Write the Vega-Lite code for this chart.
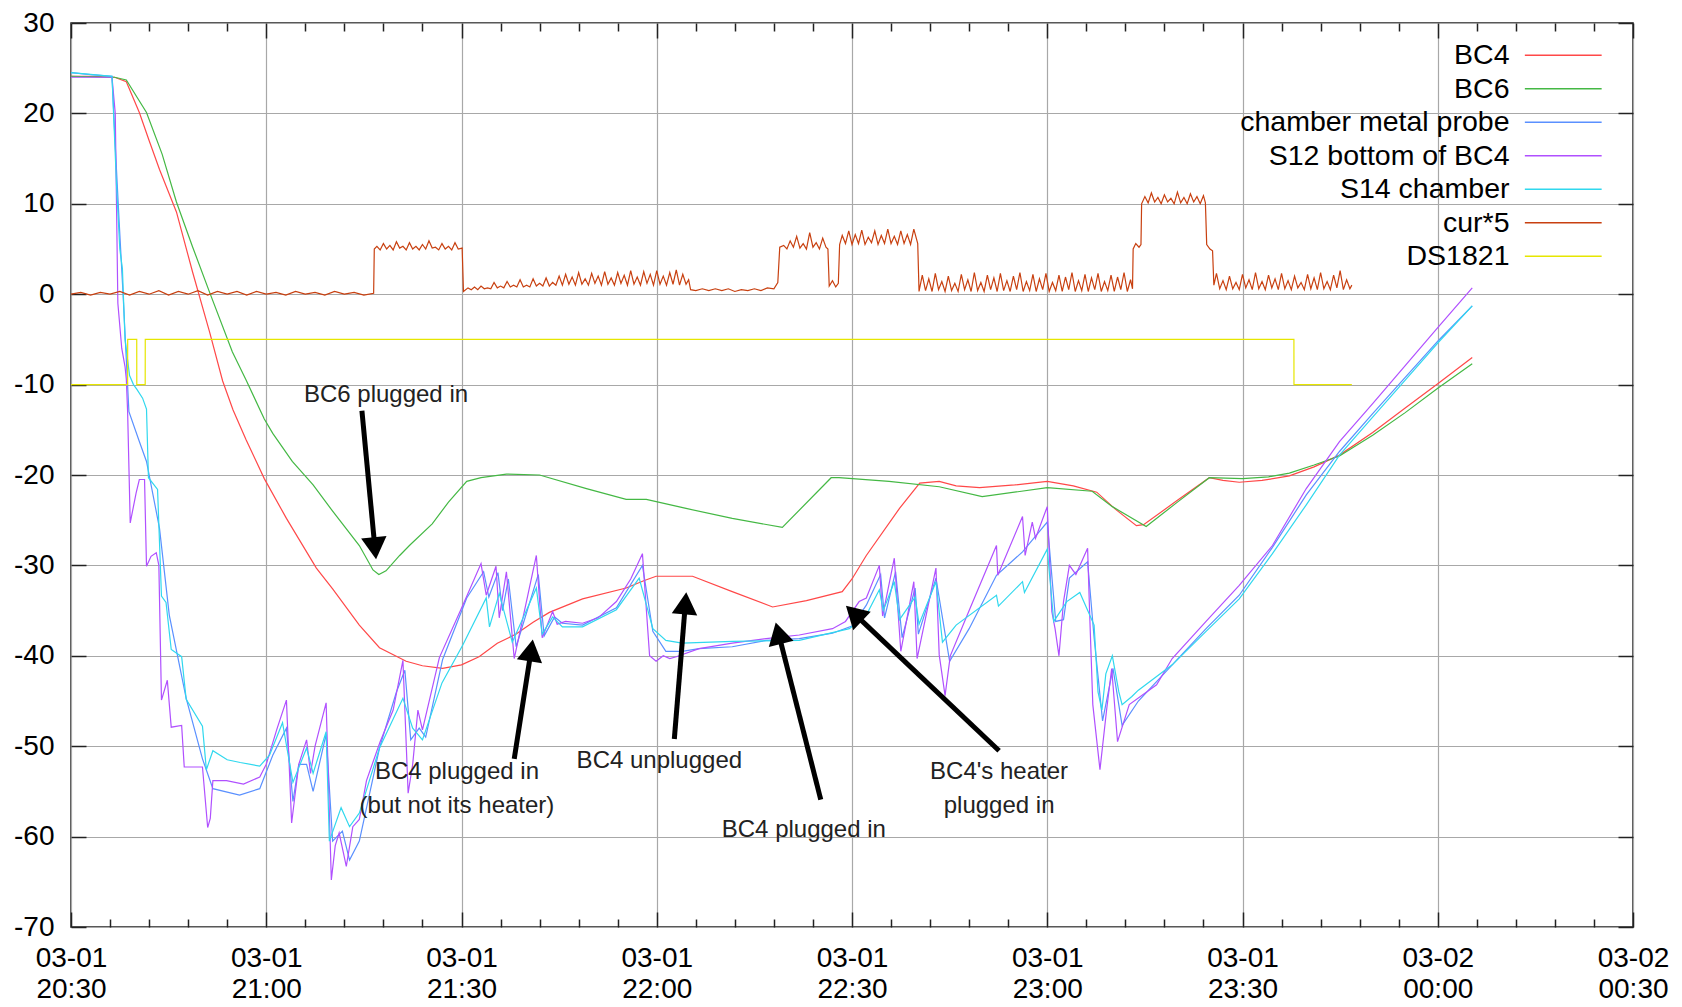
{
"$schema":"https://vega.github.io/schema/vega-lite/v6.json",
"autosize":{"type":"none"},
"width":1562,"height":904,
"padding":{"left":71,"top":23,"right":49,"bottom":80},
"background":"white",
"config":{
 "view":{"stroke":"#222","strokeWidth":1.5},
 "axis":{"labelFont":"Liberation Sans","labelFontSize":28,"labelColor":"#000","tickColor":"#222","tickWidth":1.5,"gridColor":"#a8a8a8","gridWidth":1.2,"gridOpacity":1,"title":null,"labelFlush":false,"labelOverlap":false},
 "legend":{"orient":"none","legendX":1478,"legendY":18,"padding":0,"title":null,"labelFont":"Liberation Sans","labelFontSize":28.5,"labelColor":"#000","labelAlign":"right","labelOffset":-68,"labelLimit":0,"symbolType":"M-4.8,0H4.8","symbolSize":256,"symbolStrokeWidth":1.5,"rowPadding":4.5}
},
"datasets":{
"series":[
{"s":"BC4","t":0,"v":24.1},{"s":"BC4","t":3,"v":24.1},{"s":"BC4","t":6.7,"v":24.0},{"s":"BC4","t":8.5,"v":23.5},{"s":"BC4","t":10.5,"v":20.1},{"s":"BC4","t":12,"v":17},{"s":"BC4","t":13.6,"v":13.8},{"s":"BC4","t":16.2,"v":9.1},{"s":"BC4","t":18.7,"v":2.4},{"s":"BC4","t":21.3,"v":-4.2},{"s":"BC4","t":23.3,"v":-9.6},{"s":"BC4","t":24.9,"v":-12.8},{"s":"BC4","t":26.9,"v":-16.1},{"s":"BC4","t":29.7,"v":-20.4},{"s":"BC4","t":33.1,"v":-24.8},{"s":"BC4","t":37.7,"v":-30.3},{"s":"BC4","t":40.2,"v":-32.6},{"s":"BC4","t":44.3,"v":-36.6},{"s":"BC4","t":47.4,"v":-39.1},{"s":"BC4","t":51.5,"v":-40.6},{"s":"BC4","t":54,"v":-41.1},{"s":"BC4","t":57.1,"v":-41.4},{"s":"BC4","t":60,"v":-41},{"s":"BC4","t":62.7,"v":-40.1},{"s":"BC4","t":65.5,"v":-38.6},{"s":"BC4","t":68.4,"v":-37.6},{"s":"BC4","t":71,"v":-36.3},{"s":"BC4","t":73.5,"v":-35.2},{"s":"BC4","t":78.6,"v":-33.7},{"s":"BC4","t":85.3,"v":-32.5},{"s":"BC4","t":88,"v":-31.7},{"s":"BC4","t":89.9,"v":-31.2},{"s":"BC4","t":95.5,"v":-31.2},{"s":"BC4","t":101.6,"v":-32.9},{"s":"BC4","t":107.8,"v":-34.6},{"s":"BC4","t":113,"v":-33.9},{"s":"BC4","t":118.5,"v":-32.9},{"s":"BC4","t":120,"v":-31.5},{"s":"BC4","t":122.2,"v":-28.9},{"s":"BC4","t":127.3,"v":-23.7},{"s":"BC4","t":130.4,"v":-20.9},{"s":"BC4","t":133.4,"v":-20.7},{"s":"BC4","t":136,"v":-21.2},{"s":"BC4","t":139.6,"v":-21.4},{"s":"BC4","t":145,"v":-21.1},{"s":"BC4","t":150,"v":-20.7},{"s":"BC4","t":154,"v":-21.2},{"s":"BC4","t":157.6,"v":-21.9},{"s":"BC4","t":160.5,"v":-23.8},{"s":"BC4","t":163.7,"v":-25.6},{"s":"BC4","t":164.8,"v":-25.5},{"s":"BC4","t":170,"v":-22.8},{"s":"BC4","t":174.9,"v":-20.3},{"s":"BC4","t":177,"v":-20.6},{"s":"BC4","t":179.5,"v":-20.8},{"s":"BC4","t":183,"v":-20.6},{"s":"BC4","t":187.2,"v":-20.1},{"s":"BC4","t":191,"v":-19.1},{"s":"BC4","t":194.9,"v":-17.8},{"s":"BC4","t":200,"v":-15.3},{"s":"BC4","t":205,"v":-12.6},{"s":"BC4","t":210,"v":-9.9},{"s":"BC4","t":215.3,"v":-7.0},
{"s":"BC6","t":0,"v":24.1},{"s":"BC6","t":6.7,"v":24.0},{"s":"BC6","t":8.5,"v":23.7},{"s":"BC6","t":11.6,"v":20.1},{"s":"BC6","t":14,"v":15.5},{"s":"BC6","t":16.2,"v":10.2},{"s":"BC6","t":18.7,"v":5.2},{"s":"BC6","t":21.3,"v":0.2},{"s":"BC6","t":24.8,"v":-6.4},{"s":"BC6","t":26.9,"v":-9.5},{"s":"BC6","t":29.7,"v":-13.8},{"s":"BC6","t":31,"v":-15.4},{"s":"BC6","t":34,"v":-18.5},{"s":"BC6","t":37.2,"v":-21.1},{"s":"BC6","t":40.2,"v":-24},{"s":"BC6","t":44.3,"v":-27.8},{"s":"BC6","t":46.4,"v":-30.5},{"s":"BC6","t":47.3,"v":-31.0},{"s":"BC6","t":48.4,"v":-30.6},{"s":"BC6","t":50.5,"v":-28.9},{"s":"BC6","t":52,"v":-27.8},{"s":"BC6","t":55.5,"v":-25.4},{"s":"BC6","t":58,"v":-23},{"s":"BC6","t":60.8,"v":-20.7},{"s":"BC6","t":63,"v":-20.3},{"s":"BC6","t":66.9,"v":-19.9},{"s":"BC6","t":72,"v":-20.0},{"s":"BC6","t":79.2,"v":-21.5},{"s":"BC6","t":85.3,"v":-22.7},{"s":"BC6","t":88.4,"v":-22.7},{"s":"BC6","t":94.5,"v":-23.7},{"s":"BC6","t":101.6,"v":-24.8},{"s":"BC6","t":109.3,"v":-25.8},{"s":"BC6","t":116.8,"v":-20.3},{"s":"BC6","t":118,"v":-20.3},{"s":"BC6","t":125.7,"v":-20.7},{"s":"BC6","t":133.4,"v":-21.3},{"s":"BC6","t":140,"v":-22.4},{"s":"BC6","t":150,"v":-21.4},{"s":"BC6","t":156.9,"v":-21.8},{"s":"BC6","t":160,"v":-23.5},{"s":"BC6","t":165.2,"v":-25.7},{"s":"BC6","t":170,"v":-23},{"s":"BC6","t":174.9,"v":-20.3},{"s":"BC6","t":180,"v":-20.4},{"s":"BC6","t":184,"v":-20.2},{"s":"BC6","t":187.2,"v":-19.8},{"s":"BC6","t":191,"v":-18.9},{"s":"BC6","t":194.9,"v":-17.9},{"s":"BC6","t":200,"v":-15.6},{"s":"BC6","t":205,"v":-13.1},{"s":"BC6","t":210,"v":-10.4},{"s":"BC6","t":215.3,"v":-7.7},
{"s":"chamber metal probe","t":0,"v":24.5},{"s":"chamber metal probe","t":3,"v":24.3},{"s":"chamber metal probe","t":6.3,"v":24.1},{"s":"chamber metal probe","t":6.9,"v":15},{"s":"chamber metal probe","t":7.4,"v":8},{"s":"chamber metal probe","t":8,"v":0},{"s":"chamber metal probe","t":8.9,"v":-13},{"s":"chamber metal probe","t":10.5,"v":-16.3},{"s":"chamber metal probe","t":11.6,"v":-18.5},{"s":"chamber metal probe","t":13.6,"v":-25.9},{"s":"chamber metal probe","t":15.1,"v":-35.5},{"s":"chamber metal probe","t":17.7,"v":-44.7},{"s":"chamber metal probe","t":20.2,"v":-51.4},{"s":"chamber metal probe","t":21.8,"v":-54.7},{"s":"chamber metal probe","t":25.9,"v":-55.4},{"s":"chamber metal probe","t":29,"v":-54.7},{"s":"chamber metal probe","t":31,"v":-51},{"s":"chamber metal probe","t":33.1,"v":-48},{"s":"chamber metal probe","t":34.1,"v":-56.1},{"s":"chamber metal probe","t":35,"v":-52},{"s":"chamber metal probe","t":36.2,"v":-52},{"s":"chamber metal probe","t":37.2,"v":-55},{"s":"chamber metal probe","t":39.2,"v":-48.7},{"s":"chamber metal probe","t":40.2,"v":-60.5},{"s":"chamber metal probe","t":41.7,"v":-59.4},{"s":"chamber metal probe","t":42.8,"v":-62.6},{"s":"chamber metal probe","t":44.3,"v":-60.5},{"s":"chamber metal probe","t":47.4,"v":-50.2},{"s":"chamber metal probe","t":50,"v":-44},{"s":"chamber metal probe","t":51.3,"v":-41.6},{"s":"chamber metal probe","t":52.2,"v":-49.3},{"s":"chamber metal probe","t":53.5,"v":-48},{"s":"chamber metal probe","t":54.5,"v":-49},{"s":"chamber metal probe","t":57.1,"v":-40.4},{"s":"chamber metal probe","t":60.8,"v":-33.6},{"s":"chamber metal probe","t":63.4,"v":-30.7},{"s":"chamber metal probe","t":64.2,"v":-33.5},{"s":"chamber metal probe","t":65.6,"v":-30.8},{"s":"chamber metal probe","t":66.3,"v":-35},{"s":"chamber metal probe","t":67.2,"v":-31.5},{"s":"chamber metal probe","t":68.4,"v":-39},{"s":"chamber metal probe","t":71.8,"v":-31},{"s":"chamber metal probe","t":72.7,"v":-37.8},{"s":"chamber metal probe","t":74.3,"v":-35.7},{"s":"chamber metal probe","t":75.5,"v":-36.4},{"s":"chamber metal probe","t":78.6,"v":-36.6},{"s":"chamber metal probe","t":83.8,"v":-34.7},{"s":"chamber metal probe","t":87.8,"v":-30},{"s":"chamber metal probe","t":89.4,"v":-37.3},{"s":"chamber metal probe","t":91.4,"v":-39.5},{"s":"chamber metal probe","t":93.9,"v":-39.5},{"s":"chamber metal probe","t":96.5,"v":-39.2},{"s":"chamber metal probe","t":101.6,"v":-39},{"s":"chamber metal probe","t":106.8,"v":-38.3},{"s":"chamber metal probe","t":111.9,"v":-38.1},{"s":"chamber metal probe","t":117,"v":-37.5},{"s":"chamber metal probe","t":120,"v":-36.7},{"s":"chamber metal probe","t":122.2,"v":-34.4},{"s":"chamber metal probe","t":124.4,"v":-31},{"s":"chamber metal probe","t":125,"v":-35.8},{"s":"chamber metal probe","t":126.7,"v":-30.7},{"s":"chamber metal probe","t":127.7,"v":-38},{"s":"chamber metal probe","t":129.7,"v":-32.5},{"s":"chamber metal probe","t":130.2,"v":-37.6},{"s":"chamber metal probe","t":132.9,"v":-31.4},{"s":"chamber metal probe","t":135,"v":-40.6},{"s":"chamber metal probe","t":138,"v":-37},{"s":"chamber metal probe","t":142.2,"v":-31.1},{"s":"chamber metal probe","t":146.2,"v":-28.5},{"s":"chamber metal probe","t":150,"v":-25.2},{"s":"chamber metal probe","t":151.3,"v":-36.2},{"s":"chamber metal probe","t":152.5,"v":-36},{"s":"chamber metal probe","t":153.4,"v":-31.4},{"s":"chamber metal probe","t":156.2,"v":-29.6},{"s":"chamber metal probe","t":157.2,"v":-38},{"s":"chamber metal probe","t":158.5,"v":-47.2},{"s":"chamber metal probe","t":160.1,"v":-41.4},{"s":"chamber metal probe","t":161.5,"v":-47.7},{"s":"chamber metal probe","t":164,"v":-45},{"s":"chamber metal probe","t":169.2,"v":-41},{"s":"chamber metal probe","t":174.4,"v":-37},{"s":"chamber metal probe","t":179.5,"v":-33.3},{"s":"chamber metal probe","t":184.6,"v":-28},{"s":"chamber metal probe","t":189.8,"v":-22.2},{"s":"chamber metal probe","t":194.9,"v":-17.4},{"s":"chamber metal probe","t":200,"v":-13.2},{"s":"chamber metal probe","t":205,"v":-9.2},{"s":"chamber metal probe","t":210,"v":-5.2},{"s":"chamber metal probe","t":215.3,"v":-1.3},
{"s":"S12 bottom of BC4","t":0,"v":24.0},{"s":"S12 bottom of BC4","t":6.3,"v":24.0},{"s":"S12 bottom of BC4","t":6.8,"v":20},{"s":"S12 bottom of BC4","t":7.2,"v":-1},{"s":"S12 bottom of BC4","t":7.8,"v":-6},{"s":"S12 bottom of BC4","t":8.3,"v":-8},{"s":"S12 bottom of BC4","t":8.5,"v":-9.4},{"s":"S12 bottom of BC4","t":8.7,"v":-13},{"s":"S12 bottom of BC4","t":9.1,"v":-25.3},{"s":"S12 bottom of BC4","t":10,"v":-22},{"s":"S12 bottom of BC4","t":10.5,"v":-20.5},{"s":"S12 bottom of BC4","t":11.3,"v":-20.5},{"s":"S12 bottom of BC4","t":11.6,"v":-30.1},{"s":"S12 bottom of BC4","t":12.3,"v":-29},{"s":"S12 bottom of BC4","t":13.1,"v":-28.6},{"s":"S12 bottom of BC4","t":13.5,"v":-30},{"s":"S12 bottom of BC4","t":13.9,"v":-44.9},{"s":"S12 bottom of BC4","t":14.8,"v":-42.7},{"s":"S12 bottom of BC4","t":15.4,"v":-47.9},{"s":"S12 bottom of BC4","t":17,"v":-47.7},{"s":"S12 bottom of BC4","t":17.4,"v":-52.3},{"s":"S12 bottom of BC4","t":20.2,"v":-52.3},{"s":"S12 bottom of BC4","t":21,"v":-59},{"s":"S12 bottom of BC4","t":21.4,"v":-58},{"s":"S12 bottom of BC4","t":21.8,"v":-53.8},{"s":"S12 bottom of BC4","t":23.9,"v":-53.8},{"s":"S12 bottom of BC4","t":26.5,"v":-54.2},{"s":"S12 bottom of BC4","t":29,"v":-53.4},{"s":"S12 bottom of BC4","t":30,"v":-52},{"s":"S12 bottom of BC4","t":31.6,"v":-48.2},{"s":"S12 bottom of BC4","t":33.1,"v":-44.9},{"s":"S12 bottom of BC4","t":33.9,"v":-58.5},{"s":"S12 bottom of BC4","t":35,"v":-52},{"s":"S12 bottom of BC4","t":36.2,"v":-49.3},{"s":"S12 bottom of BC4","t":36.8,"v":-53},{"s":"S12 bottom of BC4","t":37.5,"v":-50},{"s":"S12 bottom of BC4","t":39.2,"v":-45.2},{"s":"S12 bottom of BC4","t":40,"v":-64.8},{"s":"S12 bottom of BC4","t":40.6,"v":-61},{"s":"S12 bottom of BC4","t":41.2,"v":-59.6},{"s":"S12 bottom of BC4","t":42.3,"v":-63.3},{"s":"S12 bottom of BC4","t":43.3,"v":-58.9},{"s":"S12 bottom of BC4","t":44.3,"v":-58.1},{"s":"S12 bottom of BC4","t":45.4,"v":-53.8},{"s":"S12 bottom of BC4","t":47.5,"v":-49.5},{"s":"S12 bottom of BC4","t":49.5,"v":-46},{"s":"S12 bottom of BC4","t":51,"v":-40.5},{"s":"S12 bottom of BC4","t":51.8,"v":-55.2},{"s":"S12 bottom of BC4","t":52.5,"v":-52},{"s":"S12 bottom of BC4","t":53.3,"v":-46},{"s":"S12 bottom of BC4","t":54,"v":-48.2},{"s":"S12 bottom of BC4","t":56.6,"v":-40.2},{"s":"S12 bottom of BC4","t":60.2,"v":-34.4},{"s":"S12 bottom of BC4","t":63,"v":-29.8},{"s":"S12 bottom of BC4","t":63.8,"v":-33.3},{"s":"S12 bottom of BC4","t":65.3,"v":-30.1},{"s":"S12 bottom of BC4","t":65.8,"v":-35.8},{"s":"S12 bottom of BC4","t":66.9,"v":-30.7},{"s":"S12 bottom of BC4","t":68.1,"v":-40.3},{"s":"S12 bottom of BC4","t":71.5,"v":-28.9},{"s":"S12 bottom of BC4","t":72.4,"v":-38},{"s":"S12 bottom of BC4","t":74,"v":-35.1},{"s":"S12 bottom of BC4","t":74.7,"v":-36.5},{"s":"S12 bottom of BC4","t":76,"v":-36.2},{"s":"S12 bottom of BC4","t":78.6,"v":-36.4},{"s":"S12 bottom of BC4","t":81,"v":-35.8},{"s":"S12 bottom of BC4","t":83.8,"v":-34},{"s":"S12 bottom of BC4","t":86,"v":-31.5},{"s":"S12 bottom of BC4","t":87.8,"v":-28.7},{"s":"S12 bottom of BC4","t":88.9,"v":-40},{"s":"S12 bottom of BC4","t":89.9,"v":-40.6},{"s":"S12 bottom of BC4","t":91,"v":-40},{"s":"S12 bottom of BC4","t":92,"v":-40.3},{"s":"S12 bottom of BC4","t":93,"v":-40.1},{"s":"S12 bottom of BC4","t":96.5,"v":-39.2},{"s":"S12 bottom of BC4","t":101.6,"v":-38.6},{"s":"S12 bottom of BC4","t":106.8,"v":-38.1},{"s":"S12 bottom of BC4","t":111.9,"v":-37.7},{"s":"S12 bottom of BC4","t":117,"v":-37},{"s":"S12 bottom of BC4","t":119,"v":-36.2},{"s":"S12 bottom of BC4","t":121.1,"v":-34},{"s":"S12 bottom of BC4","t":122.2,"v":-33.6},{"s":"S12 bottom of BC4","t":124.2,"v":-30},{"s":"S12 bottom of BC4","t":124.7,"v":-35.6},{"s":"S12 bottom of BC4","t":126.5,"v":-29.2},{"s":"S12 bottom of BC4","t":127.5,"v":-39.5},{"s":"S12 bottom of BC4","t":129.5,"v":-31.8},{"s":"S12 bottom of BC4","t":130,"v":-40.3},{"s":"S12 bottom of BC4","t":132.9,"v":-30.3},{"s":"S12 bottom of BC4","t":133.4,"v":-39.9},{"s":"S12 bottom of BC4","t":134.3,"v":-44.4},{"s":"S12 bottom of BC4","t":135.1,"v":-40},{"s":"S12 bottom of BC4","t":138,"v":-35},{"s":"S12 bottom of BC4","t":142.2,"v":-27.8},{"s":"S12 bottom of BC4","t":142.4,"v":-31.1},{"s":"S12 bottom of BC4","t":146.2,"v":-24.6},{"s":"S12 bottom of BC4","t":146.6,"v":-28.9},{"s":"S12 bottom of BC4","t":147.7,"v":-25.2},{"s":"S12 bottom of BC4","t":148.2,"v":-27},{"s":"S12 bottom of BC4","t":150,"v":-23.5},{"s":"S12 bottom of BC4","t":150.7,"v":-35.1},{"s":"S12 bottom of BC4","t":151.2,"v":-37},{"s":"S12 bottom of BC4","t":151.8,"v":-40},{"s":"S12 bottom of BC4","t":152.5,"v":-34},{"s":"S12 bottom of BC4","t":153.4,"v":-30},{"s":"S12 bottom of BC4","t":154.4,"v":-31},{"s":"S12 bottom of BC4","t":156.2,"v":-28.1},{"s":"S12 bottom of BC4","t":156.5,"v":-35},{"s":"S12 bottom of BC4","t":157,"v":-45.4},{"s":"S12 bottom of BC4","t":158.1,"v":-52.6},{"s":"S12 bottom of BC4","t":159.1,"v":-46.1},{"s":"S12 bottom of BC4","t":159.9,"v":-41.4},{"s":"S12 bottom of BC4","t":160.8,"v":-49.5},{"s":"S12 bottom of BC4","t":162.6,"v":-45.4},{"s":"S12 bottom of BC4","t":166.8,"v":-43.2},{"s":"S12 bottom of BC4","t":169.2,"v":-40.3},{"s":"S12 bottom of BC4","t":174.4,"v":-36.2},{"s":"S12 bottom of BC4","t":179.5,"v":-32.2},{"s":"S12 bottom of BC4","t":184.6,"v":-27.8},{"s":"S12 bottom of BC4","t":189.8,"v":-21.5},{"s":"S12 bottom of BC4","t":194.9,"v":-16.3},{"s":"S12 bottom of BC4","t":200,"v":-12.1},{"s":"S12 bottom of BC4","t":205,"v":-7.9},{"s":"S12 bottom of BC4","t":210,"v":-3.7},{"s":"S12 bottom of BC4","t":215.3,"v":0.7},
{"s":"S14 chamber","t":0,"v":24.5},{"s":"S14 chamber","t":6.3,"v":24.1},{"s":"S14 chamber","t":7,"v":12},{"s":"S14 chamber","t":7.5,"v":5},{"s":"S14 chamber","t":7.9,"v":2.8},{"s":"S14 chamber","t":8.3,"v":-5},{"s":"S14 chamber","t":9,"v":-9},{"s":"S14 chamber","t":9.6,"v":-10},{"s":"S14 chamber","t":10.1,"v":-10.5},{"s":"S14 chamber","t":11,"v":-11.5},{"s":"S14 chamber","t":11.6,"v":-12.7},{"s":"S14 chamber","t":11.9,"v":-20.3},{"s":"S14 chamber","t":13.3,"v":-21.6},{"s":"S14 chamber","t":13.9,"v":-33.4},{"s":"S14 chamber","t":14.6,"v":-34.1},{"s":"S14 chamber","t":15.4,"v":-39.3},{"s":"S14 chamber","t":17,"v":-40.1},{"s":"S14 chamber","t":17.7,"v":-44.8},{"s":"S14 chamber","t":20.2,"v":-47.8},{"s":"S14 chamber","t":20.8,"v":-52.6},{"s":"S14 chamber","t":21.8,"v":-50.5},{"s":"S14 chamber","t":24,"v":-51.5},{"s":"S14 chamber","t":26,"v":-51.8},{"s":"S14 chamber","t":29,"v":-52.2},{"s":"S14 chamber","t":30.5,"v":-51},{"s":"S14 chamber","t":32.5,"v":-47.4},{"s":"S14 chamber","t":34.1,"v":-54},{"s":"S14 chamber","t":36.2,"v":-50.2},{"s":"S14 chamber","t":37.2,"v":-53},{"s":"S14 chamber","t":39.2,"v":-48.4},{"s":"S14 chamber","t":39.7,"v":-60.5},{"s":"S14 chamber","t":41.5,"v":-56.8},{"s":"S14 chamber","t":42.8,"v":-58.9},{"s":"S14 chamber","t":44.3,"v":-57.4},{"s":"S14 chamber","t":47.4,"v":-50.2},{"s":"S14 chamber","t":51,"v":-44.7},{"s":"S14 chamber","t":52.5,"v":-48},{"s":"S14 chamber","t":54,"v":-49.3},{"s":"S14 chamber","t":57,"v":-43},{"s":"S14 chamber","t":60.2,"v":-38.8},{"s":"S14 chamber","t":63.8,"v":-33.6},{"s":"S14 chamber","t":64.3,"v":-36.8},{"s":"S14 chamber","t":65.8,"v":-33.1},{"s":"S14 chamber","t":67.8,"v":-38.5},{"s":"S14 chamber","t":71.5,"v":-32.5},{"s":"S14 chamber","t":72.4,"v":-37.6},{"s":"S14 chamber","t":74,"v":-35.7},{"s":"S14 chamber","t":75.5,"v":-36.8},{"s":"S14 chamber","t":78.6,"v":-36.8},{"s":"S14 chamber","t":83.8,"v":-34.9},{"s":"S14 chamber","t":87.3,"v":-31.4},{"s":"S14 chamber","t":89.4,"v":-37},{"s":"S14 chamber","t":91.4,"v":-38.3},{"s":"S14 chamber","t":93.9,"v":-38.6},{"s":"S14 chamber","t":101.6,"v":-38.4},{"s":"S14 chamber","t":111.9,"v":-38.3},{"s":"S14 chamber","t":119.6,"v":-37},{"s":"S14 chamber","t":122.2,"v":-35.5},{"s":"S14 chamber","t":124.2,"v":-32.7},{"s":"S14 chamber","t":124.8,"v":-35},{"s":"S14 chamber","t":126.5,"v":-31.8},{"s":"S14 chamber","t":127.3,"v":-36},{"s":"S14 chamber","t":129.7,"v":-33.5},{"s":"S14 chamber","t":130.3,"v":-36.5},{"s":"S14 chamber","t":132.9,"v":-31.8},{"s":"S14 chamber","t":133.9,"v":-38.5},{"s":"S14 chamber","t":136,"v":-36.6},{"s":"S14 chamber","t":142.2,"v":-33.3},{"s":"S14 chamber","t":142.5,"v":-34.5},{"s":"S14 chamber","t":146.2,"v":-31.8},{"s":"S14 chamber","t":146.5,"v":-33},{"s":"S14 chamber","t":150,"v":-28.2},{"s":"S14 chamber","t":151,"v":-36.2},{"s":"S14 chamber","t":153,"v":-34},{"s":"S14 chamber","t":155,"v":-33},{"s":"S14 chamber","t":157.2,"v":-36.6},{"s":"S14 chamber","t":157.8,"v":-44},{"s":"S14 chamber","t":158.4,"v":-46},{"s":"S14 chamber","t":159,"v":-42},{"s":"S14 chamber","t":160,"v":-40},{"s":"S14 chamber","t":161,"v":-44},{"s":"S14 chamber","t":161.5,"v":-45.4},{"s":"S14 chamber","t":163,"v":-44.5},{"s":"S14 chamber","t":164,"v":-43.8},{"s":"S14 chamber","t":169.2,"v":-41},{"s":"S14 chamber","t":174.4,"v":-37.3},{"s":"S14 chamber","t":179.5,"v":-33.7},{"s":"S14 chamber","t":184.6,"v":-28.7},{"s":"S14 chamber","t":189.8,"v":-23.3},{"s":"S14 chamber","t":194.9,"v":-17.8},{"s":"S14 chamber","t":200,"v":-13.6},{"s":"S14 chamber","t":205,"v":-9.5},{"s":"S14 chamber","t":210,"v":-5.4},{"s":"S14 chamber","t":215.3,"v":-1.3},
{"s":"cur*5","t":0,"v":0.0},{"s":"cur*5","t":1.5,"v":0.2},{"s":"cur*5","t":3,"v":-0.1},{"s":"cur*5","t":4.5,"v":0.2},{"s":"cur*5","t":6,"v":0},{"s":"cur*5","t":7.5,"v":0.3},{"s":"cur*5","t":9,"v":-0.1},{"s":"cur*5","t":10.5,"v":0.3},{"s":"cur*5","t":12,"v":0},{"s":"cur*5","t":13.5,"v":0.4},{"s":"cur*5","t":15,"v":-0.1},{"s":"cur*5","t":16.5,"v":0.3},{"s":"cur*5","t":18,"v":0},{"s":"cur*5","t":19.5,"v":0.4},{"s":"cur*5","t":21,"v":-0.1},{"s":"cur*5","t":22.5,"v":0.3},{"s":"cur*5","t":24,"v":0},{"s":"cur*5","t":25.5,"v":0.3},{"s":"cur*5","t":27,"v":-0.1},{"s":"cur*5","t":28.5,"v":0.3},{"s":"cur*5","t":30,"v":0},{"s":"cur*5","t":31.5,"v":0.2},{"s":"cur*5","t":33,"v":-0.1},{"s":"cur*5","t":34.5,"v":0.3},{"s":"cur*5","t":36,"v":0},{"s":"cur*5","t":37.5,"v":0.2},{"s":"cur*5","t":39,"v":-0.1},{"s":"cur*5","t":40.5,"v":0.3},{"s":"cur*5","t":42,"v":0},{"s":"cur*5","t":43.5,"v":0.2},{"s":"cur*5","t":45,"v":-0.1},{"s":"cur*5","t":46.5,"v":0.1},
{"s":"cur*5","t":46.6,"v":5.0},{"s":"cur*5","t":47,"v":5.3},{"s":"cur*5","t":47.5,"v":4.9},{"s":"cur*5","t":48,"v":5.6},{"s":"cur*5","t":48.5,"v":5.0},{"s":"cur*5","t":49,"v":5.4},{"s":"cur*5","t":49.5,"v":4.9},{"s":"cur*5","t":50,"v":5.8},{"s":"cur*5","t":50.5,"v":5.1},{"s":"cur*5","t":51,"v":5.3},{"s":"cur*5","t":51.5,"v":4.9},{"s":"cur*5","t":52,"v":5.7},{"s":"cur*5","t":52.5,"v":5.0},{"s":"cur*5","t":53,"v":5.3},{"s":"cur*5","t":53.5,"v":4.9},{"s":"cur*5","t":54,"v":5.5},{"s":"cur*5","t":54.5,"v":5.0},{"s":"cur*5","t":55,"v":5.9},{"s":"cur*5","t":55.5,"v":5.1},{"s":"cur*5","t":56,"v":5.2},{"s":"cur*5","t":56.5,"v":4.9},{"s":"cur*5","t":57,"v":5.6},{"s":"cur*5","t":57.5,"v":5.0},{"s":"cur*5","t":58,"v":5.3},{"s":"cur*5","t":58.5,"v":4.9},{"s":"cur*5","t":59,"v":5.7},{"s":"cur*5","t":59.5,"v":5.0},{"s":"cur*5","t":60.1,"v":5.1},
{"s":"cur*5","t":60.3,"v":0.3},{"s":"cur*5","t":61,"v":0.7},{"s":"cur*5","t":61.5,"v":0.5},{"s":"cur*5","t":62,"v":0.8},{"s":"cur*5","t":62.5,"v":0.5},{"s":"cur*5","t":63,"v":0.9},{"s":"cur*5","t":63.5,"v":0.6},{"s":"cur*5","t":64,"v":0.7},{"s":"cur*5","t":64.5,"v":0.6},{"s":"cur*5","t":65,"v":1.3},{"s":"cur*5","t":65.5,"v":0.7},{"s":"cur*5","t":66,"v":0.9},{"s":"cur*5","t":66.5,"v":0.7},{"s":"cur*5","t":67,"v":1.4},{"s":"cur*5","t":67.5,"v":0.8},{"s":"cur*5","t":68,"v":1.0},{"s":"cur*5","t":68.5,"v":0.8},{"s":"cur*5","t":69,"v":1.6},{"s":"cur*5","t":69.5,"v":0.8},{"s":"cur*5","t":70,"v":1.0},{"s":"cur*5","t":70.5,"v":0.8},{"s":"cur*5","t":71,"v":1.7},{"s":"cur*5","t":71.5,"v":0.9},{"s":"cur*5","t":72,"v":1.2},{"s":"cur*5","t":72.5,"v":0.9},{"s":"cur*5","t":73,"v":1.8},{"s":"cur*5","t":73.5,"v":0.9},{"s":"cur*5","t":74,"v":1.3},{"s":"cur*5","t":74.5,"v":1.0},{"s":"cur*5","t":75,"v":2.0},
{"s":"cur*5","t":75.5,"v":1.0},{"s":"cur*5","t":76,"v":2.2},{"s":"cur*5","t":76.5,"v":1.1},{"s":"cur*5","t":77,"v":1.9},{"s":"cur*5","t":77.5,"v":1.0},{"s":"cur*5","t":78,"v":2.4},{"s":"cur*5","t":78.5,"v":1.1},{"s":"cur*5","t":79,"v":1.7},{"s":"cur*5","t":79.5,"v":1.0},{"s":"cur*5","t":80,"v":2.3},{"s":"cur*5","t":80.5,"v":1.2},{"s":"cur*5","t":81,"v":2.0},{"s":"cur*5","t":81.5,"v":1.0},{"s":"cur*5","t":82,"v":2.5},{"s":"cur*5","t":82.5,"v":1.1},{"s":"cur*5","t":83,"v":1.8},{"s":"cur*5","t":83.5,"v":1.0},{"s":"cur*5","t":84,"v":2.4},{"s":"cur*5","t":84.5,"v":1.2},{"s":"cur*5","t":85,"v":2.1},{"s":"cur*5","t":85.5,"v":1.0},{"s":"cur*5","t":86,"v":2.6},{"s":"cur*5","t":86.5,"v":1.1},{"s":"cur*5","t":87,"v":1.9},{"s":"cur*5","t":87.5,"v":1.0},{"s":"cur*5","t":88,"v":2.5},{"s":"cur*5","t":88.5,"v":1.2},{"s":"cur*5","t":89,"v":2.2},{"s":"cur*5","t":89.5,"v":1.0},{"s":"cur*5","t":90,"v":2.6},{"s":"cur*5","t":90.5,"v":1.1},{"s":"cur*5","t":91,"v":2.0},{"s":"cur*5","t":91.5,"v":1.0},{"s":"cur*5","t":92,"v":2.4},{"s":"cur*5","t":92.5,"v":1.1},{"s":"cur*5","t":93,"v":2.7},{"s":"cur*5","t":93.5,"v":1.0},{"s":"cur*5","t":94,"v":2.2},{"s":"cur*5","t":94.5,"v":1.1},{"s":"cur*5","t":94.9,"v":1.6},
{"s":"cur*5","t":95.2,"v":0.5},{"s":"cur*5","t":96,"v":0.4},{"s":"cur*5","t":97,"v":0.6},{"s":"cur*5","t":98,"v":0.4},{"s":"cur*5","t":99,"v":0.6},{"s":"cur*5","t":100,"v":0.4},{"s":"cur*5","t":101,"v":0.6},{"s":"cur*5","t":102,"v":0.3},{"s":"cur*5","t":103,"v":0.5},{"s":"cur*5","t":104,"v":0.4},{"s":"cur*5","t":105,"v":0.6},{"s":"cur*5","t":106,"v":0.4},{"s":"cur*5","t":107,"v":0.7},{"s":"cur*5","t":108,"v":0.6},{"s":"cur*5","t":108.6,"v":1.3},
{"s":"cur*5","t":108.9,"v":5.2},{"s":"cur*5","t":109.5,"v":5.4},{"s":"cur*5","t":110,"v":5.0},{"s":"cur*5","t":110.5,"v":5.9},{"s":"cur*5","t":111,"v":5.2},{"s":"cur*5","t":111.5,"v":6.4},{"s":"cur*5","t":112,"v":5.1},{"s":"cur*5","t":112.5,"v":5.6},{"s":"cur*5","t":113,"v":5.0},{"s":"cur*5","t":113.5,"v":6.8},{"s":"cur*5","t":114,"v":5.2},{"s":"cur*5","t":114.5,"v":5.7},{"s":"cur*5","t":115,"v":5.0},{"s":"cur*5","t":115.5,"v":6.2},{"s":"cur*5","t":116,"v":5.2},{"s":"cur*5","t":116.3,"v":5.0},
{"s":"cur*5","t":116.5,"v":0.9},{"s":"cur*5","t":117,"v":1.5},{"s":"cur*5","t":117.5,"v":0.8},{"s":"cur*5","t":117.9,"v":1.2},
{"s":"cur*5","t":118.1,"v":5.5},{"s":"cur*5","t":118.5,"v":6.5},{"s":"cur*5","t":119,"v":5.6},{"s":"cur*5","t":119.5,"v":7.0},{"s":"cur*5","t":120,"v":5.5},{"s":"cur*5","t":120.5,"v":6.6},{"s":"cur*5","t":121,"v":5.6},{"s":"cur*5","t":121.5,"v":7.1},{"s":"cur*5","t":122,"v":5.5},{"s":"cur*5","t":122.5,"v":6.3},{"s":"cur*5","t":123,"v":5.7},{"s":"cur*5","t":123.5,"v":7.0},{"s":"cur*5","t":124,"v":5.5},{"s":"cur*5","t":124.5,"v":6.5},{"s":"cur*5","t":125,"v":5.6},{"s":"cur*5","t":125.5,"v":7.2},{"s":"cur*5","t":126,"v":5.6},{"s":"cur*5","t":126.5,"v":6.4},{"s":"cur*5","t":127,"v":5.5},{"s":"cur*5","t":127.5,"v":7.0},{"s":"cur*5","t":128,"v":5.6},{"s":"cur*5","t":128.5,"v":6.6},{"s":"cur*5","t":129,"v":5.5},{"s":"cur*5","t":129.5,"v":7.2},{"s":"cur*5","t":130.1,"v":5.6},
{"s":"cur*5","t":130.3,"v":0.3},{"s":"cur*5","t":130.8,"v":2.1},{"s":"cur*5","t":131.3,"v":0.4},{"s":"cur*5","t":131.8,"v":1.7},{"s":"cur*5","t":132.3,"v":0.3},{"s":"cur*5","t":132.8,"v":2.3},{"s":"cur*5","t":133.3,"v":0.5},{"s":"cur*5","t":133.8,"v":1.4},{"s":"cur*5","t":134.3,"v":0.3},{"s":"cur*5","t":134.8,"v":2.0},{"s":"cur*5","t":135.3,"v":0.4},{"s":"cur*5","t":135.8,"v":1.2},{"s":"cur*5","t":136.3,"v":0.3},{"s":"cur*5","t":136.8,"v":2.2},{"s":"cur*5","t":137.3,"v":0.5},{"s":"cur*5","t":137.8,"v":1.6},{"s":"cur*5","t":138.3,"v":0.3},{"s":"cur*5","t":138.8,"v":2.4},{"s":"cur*5","t":139.3,"v":0.4},{"s":"cur*5","t":139.8,"v":1.3},{"s":"cur*5","t":140.3,"v":0.3},{"s":"cur*5","t":140.8,"v":2.1},{"s":"cur*5","t":141.3,"v":0.5},{"s":"cur*5","t":141.8,"v":1.8},{"s":"cur*5","t":142.3,"v":0.3},{"s":"cur*5","t":142.8,"v":2.3},{"s":"cur*5","t":143.3,"v":0.4},{"s":"cur*5","t":143.8,"v":1.5},{"s":"cur*5","t":144.3,"v":0.3},{"s":"cur*5","t":144.8,"v":2.0},{"s":"cur*5","t":145.3,"v":0.5},{"s":"cur*5","t":145.8,"v":2.4},{"s":"cur*5","t":146.3,"v":0.3},{"s":"cur*5","t":146.8,"v":1.4},{"s":"cur*5","t":147.3,"v":0.4},{"s":"cur*5","t":147.8,"v":2.2},{"s":"cur*5","t":148.3,"v":0.3},{"s":"cur*5","t":148.8,"v":1.7},{"s":"cur*5","t":149.3,"v":0.5},{"s":"cur*5","t":149.8,"v":2.3},{"s":"cur*5","t":150.3,"v":0.3},{"s":"cur*5","t":150.8,"v":1.3},{"s":"cur*5","t":151.3,"v":0.4},{"s":"cur*5","t":151.8,"v":2.1},{"s":"cur*5","t":152.3,"v":0.3},{"s":"cur*5","t":152.8,"v":1.9},{"s":"cur*5","t":153.3,"v":0.5},{"s":"cur*5","t":153.8,"v":2.4},{"s":"cur*5","t":154.3,"v":0.3},{"s":"cur*5","t":154.8,"v":1.5},{"s":"cur*5","t":155.3,"v":0.4},{"s":"cur*5","t":155.8,"v":2.2},{"s":"cur*5","t":156.3,"v":0.3},{"s":"cur*5","t":156.8,"v":1.8},{"s":"cur*5","t":157.3,"v":0.5},{"s":"cur*5","t":157.8,"v":2.3},{"s":"cur*5","t":158.3,"v":0.3},{"s":"cur*5","t":158.8,"v":1.4},{"s":"cur*5","t":159.3,"v":0.4},{"s":"cur*5","t":159.8,"v":2.1},{"s":"cur*5","t":160.3,"v":0.3},{"s":"cur*5","t":160.8,"v":1.9},{"s":"cur*5","t":161.3,"v":0.5},{"s":"cur*5","t":161.8,"v":2.4},{"s":"cur*5","t":162.3,"v":0.3},{"s":"cur*5","t":162.8,"v":1.6},{"s":"cur*5","t":163.1,"v":0.6},
{"s":"cur*5","t":163.2,"v":5.0},{"s":"cur*5","t":163.6,"v":5.6},{"s":"cur*5","t":164.1,"v":5.2},{"s":"cur*5","t":164.4,"v":5.5},
{"s":"cur*5","t":164.5,"v":10.0},{"s":"cur*5","t":165,"v":10.8},{"s":"cur*5","t":165.5,"v":10.1},{"s":"cur*5","t":166,"v":11.2},{"s":"cur*5","t":166.5,"v":10.2},{"s":"cur*5","t":167,"v":10.7},{"s":"cur*5","t":167.5,"v":10.0},{"s":"cur*5","t":168,"v":11.0},{"s":"cur*5","t":168.5,"v":10.2},{"s":"cur*5","t":169,"v":10.6},{"s":"cur*5","t":169.5,"v":10.0},{"s":"cur*5","t":170,"v":11.3},{"s":"cur*5","t":170.5,"v":10.1},{"s":"cur*5","t":171,"v":10.7},{"s":"cur*5","t":171.5,"v":10.0},{"s":"cur*5","t":172,"v":11.1},{"s":"cur*5","t":172.5,"v":10.2},{"s":"cur*5","t":173,"v":10.8},{"s":"cur*5","t":173.5,"v":10.0},{"s":"cur*5","t":174,"v":10.9},{"s":"cur*5","t":174.3,"v":10.1},
{"s":"cur*5","t":174.5,"v":5.5},{"s":"cur*5","t":175,"v":5.0},{"s":"cur*5","t":175.4,"v":4.8},
{"s":"cur*5","t":175.6,"v":1.0},{"s":"cur*5","t":176,"v":2.3},{"s":"cur*5","t":176.5,"v":0.6},{"s":"cur*5","t":177,"v":1.5},{"s":"cur*5","t":177.5,"v":0.5},{"s":"cur*5","t":178,"v":2.0},{"s":"cur*5","t":178.5,"v":0.6},{"s":"cur*5","t":179,"v":1.3},{"s":"cur*5","t":179.5,"v":0.5},{"s":"cur*5","t":180,"v":2.2},{"s":"cur*5","t":180.5,"v":0.7},{"s":"cur*5","t":181,"v":1.6},{"s":"cur*5","t":181.5,"v":0.5},{"s":"cur*5","t":182,"v":2.4},{"s":"cur*5","t":182.5,"v":0.6},{"s":"cur*5","t":183,"v":1.4},{"s":"cur*5","t":183.5,"v":0.5},{"s":"cur*5","t":184,"v":2.1},{"s":"cur*5","t":184.5,"v":0.7},{"s":"cur*5","t":185,"v":1.7},{"s":"cur*5","t":185.5,"v":0.5},{"s":"cur*5","t":186,"v":2.3},{"s":"cur*5","t":186.5,"v":0.6},{"s":"cur*5","t":187,"v":1.5},{"s":"cur*5","t":187.5,"v":0.5},{"s":"cur*5","t":188,"v":2.0},{"s":"cur*5","t":188.5,"v":0.7},{"s":"cur*5","t":189,"v":1.3},{"s":"cur*5","t":189.5,"v":0.5},{"s":"cur*5","t":190,"v":2.2},{"s":"cur*5","t":190.5,"v":0.6},{"s":"cur*5","t":191,"v":1.8},{"s":"cur*5","t":191.5,"v":0.5},{"s":"cur*5","t":192,"v":2.4},{"s":"cur*5","t":192.5,"v":0.6},{"s":"cur*5","t":193,"v":1.4},{"s":"cur*5","t":193.5,"v":0.5},{"s":"cur*5","t":194,"v":2.1},{"s":"cur*5","t":194.5,"v":0.7},{"s":"cur*5","t":195,"v":2.6},{"s":"cur*5","t":195.5,"v":0.5},{"s":"cur*5","t":196,"v":1.6},{"s":"cur*5","t":196.5,"v":0.6},{"s":"cur*5","t":196.8,"v":1.0},
{"s":"DS1821","t":0,"v":-10},{"s":"DS1821","t":8.7,"v":-10},{"s":"DS1821","t":8.71,"v":-5},{"s":"DS1821","t":10.1,"v":-5},{"s":"DS1821","t":10.11,"v":-10},{"s":"DS1821","t":11.4,"v":-10},{"s":"DS1821","t":11.41,"v":-5},{"s":"DS1821","t":187.9,"v":-5},{"s":"DS1821","t":187.91,"v":-10},{"s":"DS1821","t":196.8,"v":-10}
],
"ann":[
{"t":48.4,"v":-11.1,"label":"BC6 plugged in"},
{"t":59.3,"v":-52.9,"label":"BC4 plugged in"},
{"t":59.3,"v":-56.6,"label":"(but not its heater)"},
{"t":90.4,"v":-51.6,"label":"BC4 unplugged"},
{"t":112.6,"v":-59.3,"label":"BC4 plugged in"},
{"t":142.6,"v":-52.9,"label":"BC4's heater"},
{"t":142.6,"v":-56.6,"label":"plugged in"}
],
"arrows":[
{"t":44.7,"v":-12.9,"t2":46.7,"v2":-28.1,"a":174.2},
{"t":68.1,"v":-51.4,"t2":70.7,"v2":-39.4,"a":8.7},
{"t":92.7,"v":-49.2,"t2":94.4,"v2":-34.2,"a":4.6},
{"t":115.2,"v":-55.9,"t2":108.7,"v2":-37.5,"a":-14.3},
{"t":142.6,"v":-50.5,"t2":120.3,"v2":-35.3,"a":-46.6}
],
"dummy":[{"t":0,"v":0}]
},
"resolve":{"axis":{"x":"independent","y":"independent"}},
"layer":[
{"data":{"name":"series"},"mark":{"type":"line","strokeWidth":1.2,"interpolate":"linear"},
 "encoding":{
  "x":{"field":"t","type":"quantitative","scale":{"domain":[0,240],"nice":false,"zero":false},
   "axis":{"values":[0,30,60,90,120,150,180,210,240],"grid":true,"ticks":false,"domain":false,"labelPadding":17,"labelLineHeight":31,
   "labelExpr":"[datum.value >= 210 ? '03-02' : '03-01', ['20:30','21:00','21:30','22:00','22:30','23:00','23:30','00:00','00:30'][round(datum.value/30)]]"}},
  "y":{"field":"v","type":"quantitative","scale":{"domain":[-70,30],"nice":false,"zero":false},
   "axis":{"values":[-70,-60,-50,-40,-30,-20,-10,0,10,20,30],"grid":true,"ticks":false,"domain":false,"labelPadding":17,"labelExpr":"'' + datum.value"}},
  "color":{"field":"s","type":"nominal","sort":null,
   "scale":{"domain":["BC4","BC6","chamber metal probe","S12 bottom of BC4","S14 chamber","cur*5","DS1821"],
   "range":["#ff4848","#44b844","#5a90ff","#b050ff","#30d8ee","#c84010","#e6e600"]}}
 }},
{"data":{"name":"dummy"},"mark":{"type":"point","opacity":0},
 "encoding":{
  "x":{"field":"t","type":"quantitative","axis":{"orient":"bottom","values":[0,30,60,90,120,150,180,210,240],"tickSize":-15,"labels":false,"grid":false,"domain":false}},
  "y":{"field":"v","type":"quantitative","axis":{"orient":"left","values":[-70,-60,-50,-40,-30,-20,-10,0,10,20,30],"tickSize":-15,"labels":false,"grid":false,"domain":false}}}},
{"data":{"name":"dummy"},"mark":{"type":"point","opacity":0},
 "encoding":{
  "x":{"field":"t","type":"quantitative","axis":{"orient":"top","values":[0,30,60,90,120,150,180,210,240],"tickSize":-15,"labels":false,"grid":false,"domain":false}},
  "y":{"field":"v","type":"quantitative","axis":{"orient":"right","values":[-70,-60,-50,-40,-30,-20,-10,0,10,20,30],"tickSize":-15,"labels":false,"grid":false,"domain":false}}}},
{"data":{"name":"dummy"},"mark":{"type":"point","opacity":0},
 "encoding":{
  "x":{"field":"t","type":"quantitative","axis":{"orient":"bottom","values":[6,12,18,24,36,42,48,54,66,72,78,84,96,102,108,114,126,132,138,144,156,162,168,174,186,192,198,204,216,222,228,234],"tickSize":-8,"labels":false,"grid":false,"domain":false}},
  "y":{"field":"v","type":"quantitative","axis":null}}},
{"data":{"name":"dummy"},"mark":{"type":"point","opacity":0},
 "encoding":{
  "x":{"field":"t","type":"quantitative","axis":{"orient":"top","values":[6,12,18,24,36,42,48,54,66,72,78,84,96,102,108,114,126,132,138,144,156,162,168,174,186,192,198,204,216,222,228,234],"tickSize":-8,"labels":false,"grid":false,"domain":false}},
  "y":{"field":"v","type":"quantitative","axis":null}}},
{"data":{"name":"arrows"},"mark":{"type":"rule","color":"#000","strokeWidth":5},
 "encoding":{"x":{"field":"t","type":"quantitative","axis":null},"y":{"field":"v","type":"quantitative","axis":null},"x2":{"field":"t2"},"y2":{"field":"v2"}}},
{"data":{"name":"arrows"},"mark":{"type":"point","shape":"triangle-up","filled":true,"color":"#000","opacity":1,"size":650},
 "encoding":{"x":{"field":"t2","type":"quantitative","axis":null},"y":{"field":"v2","type":"quantitative","axis":null},"angle":{"field":"a","type":"quantitative","scale":null}}},
{"data":{"name":"ann"},"mark":{"type":"text","font":"Liberation Sans","fontSize":24,"color":"#222","align":"center","baseline":"middle"},
 "encoding":{"x":{"field":"t","type":"quantitative","axis":null},"y":{"field":"v","type":"quantitative","axis":null},"text":{"field":"label"}}}
]
}
